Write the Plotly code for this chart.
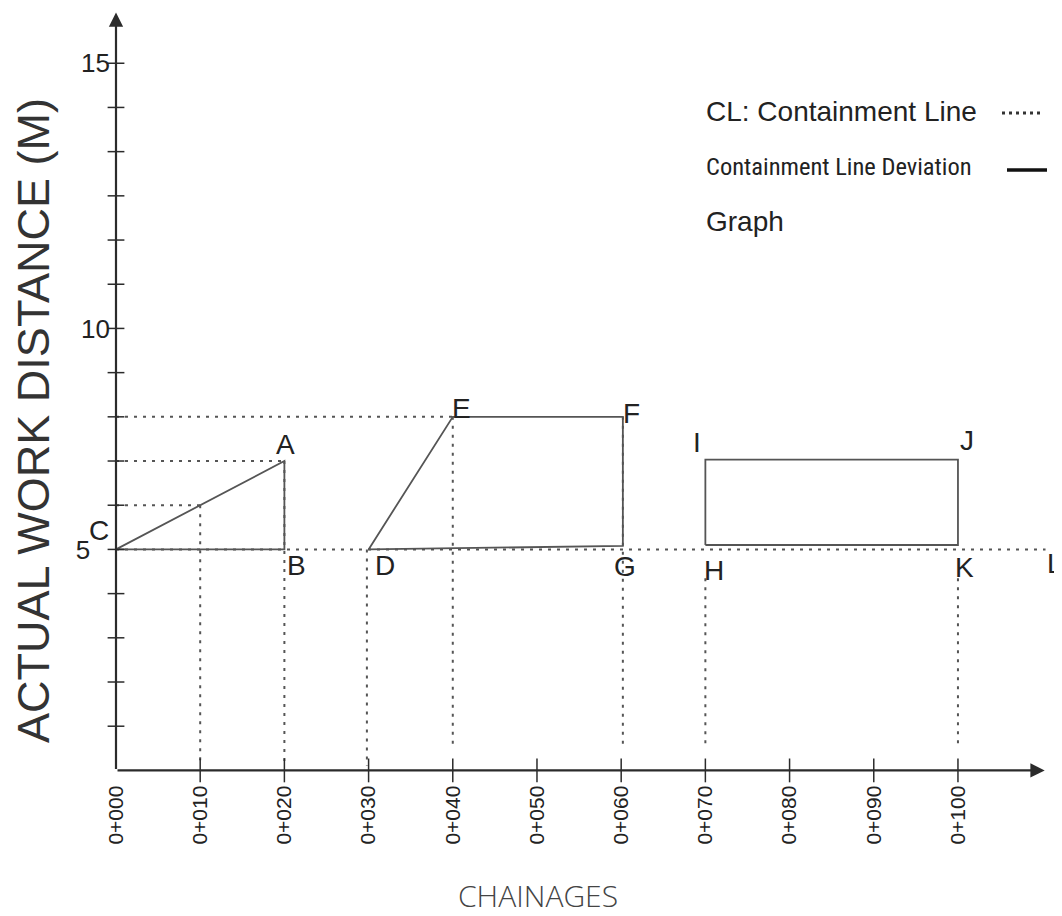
import plotly.graph_objects as go

# ---------------- data ----------------
X_TICKS = [0, 10, 20, 30, 40, 50, 60, 70, 80, 90, 100]
X_TICK_TEXT = ["0+000", "0+010", "0+020", "0+030", "0+040", "0+050",
               "0+060", "0+070", "0+080", "0+090", "0+100"]
X_MINOR = [10, 20, 30, 40, 50, 60, 70, 80, 90, 100]
Y_TICK_VALS = [5, 10, 16]
Y_TICK_TEXT = ["5\u00a0\u00a0\u2009", "10", "15"]
Y_MINOR = list(range(1, 17))

CL_Y = 5
CL_END = 110.4

TRI_X = [0, 20, 20, 0]
TRI_Y = [5, 7, 5, 5]
TRAP_X = [30, 40, 60.2, 60.2, 30]
TRAP_Y = [5, 8, 8, 5.08, 5]
RECT_X = [70, 70, 100, 100, 70]
RECT_Y = [5.1, 7.03, 7.03, 5.1, 5.1]

# horizontal guides: (y, x_from, x_to)
GUIDE_H = [(8, 0, 40), (7, 0, 20), (6, 0, 10)]
# vertical guides: (x, y_from, y_to)
GUIDE_V = [(10, 6, 0.1), (20, 7, 0.1), (29.8, 5, 0.1), (40, 8, 0.5),
           (60.2, 8, 0.5), (70, 4.35, 0.5), (100, 4.35, 0.5)]

# point labels: (text, x, y, xshift, yshift)
POINT_LABELS = [
    ("A", 20, 7, 1, 17), ("B", 20, 5, 12, -16), ("C", 0, 5, -17, 19),
    ("D", 30, 5, 16, -16), ("E", 40, 8, 9, 8), ("F", 60.2, 8, 9, 3),
    ("G", 60.2, 5.08, 2, -21), ("H", 70, 5.1, 9, -25), ("I", 70, 7.03, -8, 17),
    ("J", 100, 7.03, 9, 19), ("K", 100, 5.1, 7, -22), ("L", CL_END, 5, 9, -14),
]

X_ARROW_END = 110.3
Y_ARROW_END = 17.15

# ---------------- layout geometry ----------------
OFF = 8  # page body margin
W, H = 1054, 908
ML, MR, MT, MB = 92, 3, 0, 13
XR = [-1.9, 112]
YR = [-3.0, 17.25]
PW, PH = W - ML - MR, H - MT - MB

def paper(xp, yp):
    """page pixel -> paper coords"""
    xp -= OFF
    yp -= OFF
    return (xp - ML) / PW, 1 - (yp - MT) / PH

FONT = "Liberation Sans, Arial, sans-serif"
DARK = "#2b2b2b"
GREY = "#555555"
DOT = "3px,6px"

fig = go.Figure()

# containment line + guides (dotted)
hx, hy = [0, CL_END, None], [CL_Y, CL_Y, None]
for y, a, b in GUIDE_H:
    hx += [a, b, None]
    hy += [y, y, None]
for x, a, b in GUIDE_V:
    hx += [x, x, None]
    hy += [a, b, None]
fig.add_trace(go.Scatter(x=hx, y=hy, mode="lines",
                         line=dict(color=GREY, width=2, dash=DOT),
                         hoverinfo="skip", showlegend=False))

# deviation shapes (solid)
for xs, ys in [(TRI_X, TRI_Y), (TRAP_X, TRAP_Y), (RECT_X, RECT_Y)]:
    fig.add_trace(go.Scatter(x=xs, y=ys, mode="lines",
                             line=dict(color=GREY, width=1.8),
                             hoverinfo="skip", showlegend=False))

# tick marks crossing the axes
fig.add_trace(go.Scatter(x=X_MINOR, y=[0] * len(X_MINOR), mode="markers",
                         marker=dict(symbol="line-ns", size=17,
                                     line=dict(color=DARK, width=1.5)),
                         cliponaxis=False, hoverinfo="skip", showlegend=False))
fig.add_trace(go.Scatter(x=[0] * len(Y_MINOR), y=Y_MINOR, mode="markers",
                         marker=dict(symbol="line-ew", size=12,
                                     line=dict(color=DARK, width=1.5)),
                         cliponaxis=False, hoverinfo="skip", showlegend=False))

ann = []
# axis arrows
ann.append(dict(x=X_ARROW_END, y=0, ax=0, ay=0, xref="x", yref="y",
                axref="x", ayref="y", text="", showarrow=True, arrowhead=2,
                arrowsize=1.3, arrowwidth=2.2, arrowcolor=DARK))
ann.append(dict(x=0, y=Y_ARROW_END, ax=0, ay=0, xref="x", yref="y",
                axref="x", ayref="y", text="", showarrow=True, arrowhead=2,
                arrowsize=1.3, arrowwidth=2.2, arrowcolor=DARK))

for t, x, y, dx, dy in POINT_LABELS:
    ann.append(dict(x=x, y=y, xref="x", yref="y", text=t, showarrow=False,
                    xshift=dx, yshift=dy, xanchor="center", yanchor="middle",
                    font=dict(family=FONT, size=28, color="#222")))

# legend text
lx, ly = paper(704, 111)
ann.append(dict(x=lx, y=ly, xref="paper", yref="paper", xanchor="left",
                yanchor="middle", text="CL: Containment Line", showarrow=False,
                font=dict(family=FONT, size=28, color="#222")))
lx, ly = paper(704, 166)
ann.append(dict(x=lx, y=ly, xref="paper", yref="paper", xanchor="left",
                yanchor="middle", text="Containment Line Deviation",
                showarrow=False,
                font=dict(family="Liberation Sans Narrow, Roboto Condensed, Liberation Sans, sans-serif",
                          size=24.5, color="#222")))
lx, ly = paper(704, 221)
ann.append(dict(x=lx, y=ly, xref="paper", yref="paper", xanchor="left",
                yanchor="middle", text="Graph", showarrow=False,
                font=dict(family=FONT, size=28, color="#222")))

# axis titles
tx, ty = paper(33, 421)
ann.append(dict(x=tx, y=ty, xref="paper", yref="paper", text="ACTUAL WORK DISTANCE (M)",
                textangle=-90, showarrow=False, xanchor="center", yanchor="middle",
                font=dict(family=FONT, size=45, color="#333")))
tx, ty = paper(538, 895)
ann.append(dict(x=tx, y=ty, xref="paper", yref="paper", text="CHAINAGES",
                showarrow=False, xanchor="center", yanchor="middle",
                font=dict(family="Open Sans, sans-serif", size=30, color="#444",
                          weight=300)))

# legend symbols
shapes = []
a0 = paper(1002, 113); a1 = paper(1042, 113)
shapes.append(dict(type="line", xref="paper", yref="paper", x0=a0[0], y0=a0[1],
                    x1=a1[0], y1=a1[1], line=dict(color="#333", width=3, dash="3px,4px")))
b0 = paper(1007, 170); b1 = paper(1047, 170)
shapes.append(dict(type="line", xref="paper", yref="paper", x0=b0[0], y0=b0[1],
                    x1=b1[0], y1=b1[1], line=dict(color="#111", width=3.5)))

fig.update_layout(
    width=W, height=H,
    margin=dict(l=ML, r=MR, t=MT, b=MB, pad=0, autoexpand=False),
    paper_bgcolor="white", plot_bgcolor="white",
    showlegend=False,
    annotations=ann, shapes=shapes,
    xaxis=dict(range=XR, showgrid=False, zeroline=False, showline=False,
               automargin=False,
               tickmode="array", tickvals=X_TICKS, ticktext=X_TICK_TEXT,
               tickangle=-90, ticks="", ticklabelstandoff=10,
               tickfont=dict(family=FONT, size=21, color="#222"),
               anchor="free", position=(0 - YR[0]) / (YR[1] - YR[0])),
    yaxis=dict(range=YR, showgrid=False, zeroline=False, showline=False,
               automargin=False,
               tickmode="array", tickvals=Y_TICK_VALS, ticktext=Y_TICK_TEXT,
               ticks="", ticklabelstandoff=6,
               tickfont=dict(family=FONT, size=26, color="#222"),
               anchor="free", position=(0 - XR[0]) / (XR[1] - XR[0])),
)

fig.write_html("out.html")
